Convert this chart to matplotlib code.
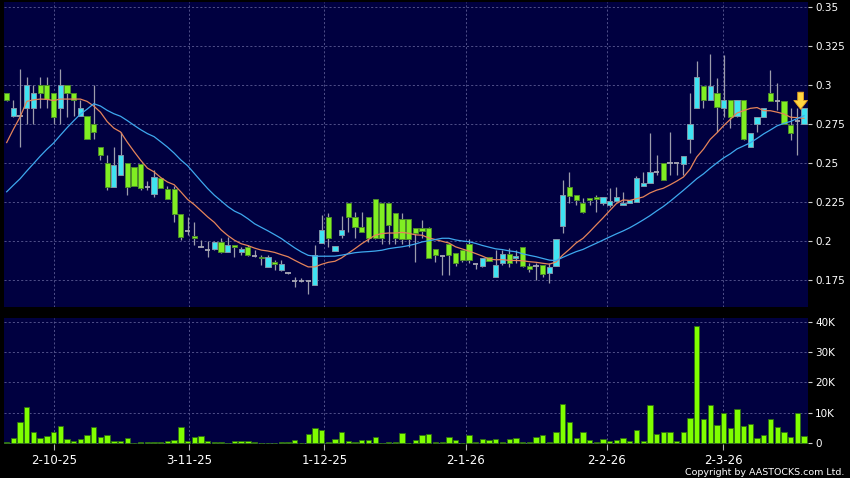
import numpy as np
import pandas as pd
import matplotlib
matplotlib.use('Agg')
import matplotlib.pyplot as plt

# daily bars, oldest first (prices in HKD, volume in thousands of shares)
opens = [0.2947, 0.2801, 0.2800, 0.2850, 0.2850, 0.3000, 0.3000, 0.2947, 0.2850, 0.3000,
         0.2947, 0.2801, 0.2801, 0.2750, 0.2600, 0.2498, 0.2348, 0.2423, 0.2498, 0.2476,
         0.2494, 0.2348, 0.2301, 0.2402, 0.2331, 0.2331, 0.2173, 0.2066, 0.2032, 0.1959,
         0.1942, 0.1946, 0.1996, 0.1932, 0.1974, 0.1929, 0.1959, 0.1904, 0.1900, 0.1835,
         0.1867, 0.1814, 0.1797, 0.1746, 0.1746, 0.1746, 0.1718, 0.1985, 0.2152, 0.1938,
         0.2038, 0.2241, 0.2152, 0.2088, 0.2152, 0.2267, 0.2246, 0.2246, 0.2177, 0.2139,
         0.2139, 0.2085, 0.2081, 0.2081, 0.1947, 0.1904, 0.1981, 0.1921, 0.1942, 0.1981,
         0.1853, 0.1840, 0.1895, 0.1767, 0.1857, 0.1917, 0.1889, 0.1964, 0.1840, 0.1840,
         0.1846, 0.1797, 0.1840, 0.2096, 0.2348, 0.2295, 0.2241, 0.2273, 0.2284, 0.2241,
         0.2231, 0.2259, 0.2231, 0.2246, 0.2252, 0.2352, 0.2370, 0.2444, 0.2498, 0.2498,
         0.2498, 0.2494, 0.2652, 0.2850, 0.2994, 0.2904, 0.2947, 0.2850, 0.2904, 0.2801,
         0.2904, 0.2600, 0.2750, 0.2797, 0.2947, 0.2900, 0.2900, 0.2744, 0.2770, 0.2750]
highs = [0.2950, 0.2904, 0.3100, 0.3053, 0.3000, 0.3053, 0.3053, 0.2947, 0.3100, 0.3000,
         0.2947, 0.2904, 0.2801, 0.3000, 0.2600, 0.2551, 0.2600, 0.2701, 0.2498, 0.2476,
         0.2494, 0.2387, 0.2455, 0.2402, 0.2353, 0.2353, 0.2173, 0.2156, 0.2124, 0.2006,
         0.2002, 0.2002, 0.2017, 0.2028, 0.1974, 0.1964, 0.1974, 0.1942, 0.1910, 0.1910,
         0.1878, 0.1878, 0.1801, 0.1772, 0.1764, 0.1746, 0.1974, 0.2167, 0.2182, 0.1968,
         0.2160, 0.2241, 0.2188, 0.2188, 0.2152, 0.2267, 0.2246, 0.2246, 0.2177, 0.2180,
         0.2139, 0.2085, 0.2135, 0.2088, 0.1947, 0.1904, 0.1981, 0.1921, 0.1942, 0.2011,
         0.1853, 0.1889, 0.1895, 0.1942, 0.1942, 0.1953, 0.1942, 0.1964, 0.1857, 0.1857,
         0.1846, 0.1857, 0.2011, 0.2391, 0.2444, 0.2295, 0.2273, 0.2273, 0.2295, 0.2284,
         0.2337, 0.2348, 0.2316, 0.2263, 0.2417, 0.2444, 0.2690, 0.2551, 0.2498, 0.2701,
         0.2498, 0.2547, 0.2951, 0.3156, 0.2994, 0.3199, 0.3043, 0.3192, 0.2904, 0.2904,
         0.2904, 0.2694, 0.2797, 0.2850, 0.3096, 0.3011, 0.2900, 0.2850, 0.2850, 0.2853]
lows = [0.2900, 0.2797, 0.2600, 0.2750, 0.2750, 0.2850, 0.2850, 0.2750, 0.2750, 0.2797,
        0.2801, 0.2801, 0.2652, 0.2652, 0.2519, 0.2327, 0.2348, 0.2423, 0.2295, 0.2352,
        0.2327, 0.2327, 0.2284, 0.2338, 0.2267, 0.2124, 0.2006, 0.2038, 0.1974, 0.1959,
        0.1900, 0.1942, 0.1921, 0.1932, 0.1900, 0.1910, 0.1904, 0.1900, 0.1846, 0.1835,
        0.1814, 0.1810, 0.1789, 0.1707, 0.1740, 0.1660, 0.1718, 0.1985, 0.1964, 0.1938,
        0.2017, 0.2060, 0.2017, 0.2060, 0.1995, 0.2011, 0.1981, 0.1981, 0.1981, 0.1981,
        0.1964, 0.1867, 0.2017, 0.1889, 0.1867, 0.1782, 0.1782, 0.1840, 0.1867, 0.1860,
        0.1820, 0.1835, 0.1874, 0.1767, 0.1846, 0.1835, 0.1857, 0.1835, 0.1803, 0.1750,
        0.1767, 0.1733, 0.1840, 0.2049, 0.2241, 0.2231, 0.2177, 0.2231, 0.2188, 0.2231,
        0.2220, 0.2252, 0.2231, 0.2246, 0.2252, 0.2352, 0.2370, 0.2423, 0.2391, 0.2423,
        0.2423, 0.2423, 0.2562, 0.2850, 0.2850, 0.2904, 0.2700, 0.2797, 0.2722, 0.2797,
        0.2647, 0.2600, 0.2701, 0.2797, 0.2900, 0.2840, 0.2750, 0.2647, 0.2551, 0.2750]
closes = [0.2904, 0.2850, 0.2800, 0.3000, 0.2947, 0.2947, 0.2908, 0.2797, 0.3000, 0.2947,
          0.2904, 0.2850, 0.2652, 0.2701, 0.2551, 0.2348, 0.2487, 0.2551, 0.2348, 0.2352,
          0.2338, 0.2348, 0.2408, 0.2338, 0.2267, 0.2173, 0.2028, 0.2066, 0.2017, 0.1959,
          0.1942, 0.1996, 0.1932, 0.1974, 0.1964, 0.1949, 0.1910, 0.1904, 0.1889, 0.1900,
          0.1852, 0.1852, 0.1797, 0.1746, 0.1746, 0.1746, 0.1910, 0.2070, 0.2017, 0.1968,
          0.2070, 0.2152, 0.2092, 0.2060, 0.2017, 0.2017, 0.2017, 0.2103, 0.2017, 0.2011,
          0.2011, 0.2053, 0.2066, 0.1889, 0.1910, 0.1904, 0.1910, 0.1857, 0.1878, 0.1878,
          0.1853, 0.1889, 0.1874, 0.1846, 0.1917, 0.1857, 0.1904, 0.1840, 0.1818, 0.1840,
          0.1788, 0.1835, 0.2011, 0.2295, 0.2288, 0.2263, 0.2188, 0.2263, 0.2269, 0.2280,
          0.2259, 0.2284, 0.2246, 0.2263, 0.2402, 0.2370, 0.2444, 0.2444, 0.2391, 0.2498,
          0.2498, 0.2547, 0.2748, 0.3049, 0.2904, 0.2994, 0.2861, 0.2904, 0.2797, 0.2904,
          0.2652, 0.2694, 0.2797, 0.2850, 0.2900, 0.2900, 0.2750, 0.2694, 0.2770, 0.2853]
volumes_k = [0.4, 1.5, 7.0, 11.9, 3.7, 1.8, 2.2, 3.5, 5.6, 1.3,
             0.7, 1.2, 2.6, 5.3, 2.1, 2.7, 0.7, 0.7, 1.5, 0.1,
             0.2, 0.3, 0.2, 0.2, 0.8, 1.1, 5.4, 0.7, 2.1, 2.4,
             0.8, 0.2, 0.2, 0.1, 0.8, 0.7, 0.7, 0.3, 0.05, 0.05,
             0.05, 0.4, 0.2, 1.0, 0.05, 2.9, 4.9, 4.3, 0.3, 1.3,
             3.6, 0.8, 0.2, 1.0, 1.0, 1.9, 0.05, 0.4, 0.4, 3.3,
             0.05, 0.9, 2.5, 3.0, 0.5, 0.3, 2.0, 1.0, 0.1, 2.5,
             0.5, 1.2, 1.0, 1.2, 0.2, 1.3, 1.6, 0.3, 0.3, 2.0,
             2.8, 0.2, 3.5, 13.0, 7.0, 1.5, 3.7, 1.0, 0.2, 1.4,
             0.7, 1.0, 1.8, 0.8, 4.3, 0.7, 12.5, 3.0, 3.7, 3.7,
             0.7, 3.5, 8.3, 38.5, 7.8, 12.5, 6.0, 10.0, 5.0, 11.2,
             5.5, 6.3, 1.8, 2.8, 7.8, 5.2, 3.5, 2.0, 10.0, 2.3]
# closes before the first visible bar, only needed to seed the moving averages
prior_closes = [0.200, 0.198, 0.201, 0.200, 0.199, 0.202, 0.200, 0.201, 0.199, 0.200,
                0.200, 0.201, 0.200, 0.285, 0.290, 0.292, 0.288, 0.290, 0.295]

date_labels = ['2-10-25', '3-11-25', '1-12-25', '2-1-26', '2-2-26', '2-3-26']
date_ticks = [7.1, 27.25, 47.4, 68.55, 89.55, 106.95]
price_ticks = [0.175, 0.2, 0.225, 0.25, 0.275, 0.3, 0.325, 0.35]
vol_ticks = [0, 10, 20, 30, 40]
vol_tick_labels = ['0', '10K', '20K', '30K', '40K']

BG = '#000040'
CYAN = '#3fe3f2'
GREEN = '#80ee22'
GRID = '#5c5c94'

o = np.array(opens)
h = np.array(highs)
l = np.array(lows)
c = np.array(closes)
x = np.arange(len(c))

allc = pd.Series(prior_closes + closes)
ma10 = allc.rolling(10).mean().values[-len(c):]
ma20 = allc.rolling(20).mean().values[-len(c):]

fig = plt.figure(figsize=(8.5, 4.78), dpi=100, facecolor='black')
ax = fig.add_axes([0.0047, 0.3577, 0.9459, 0.638])
axv = fig.add_axes([0.0047, 0.0711, 0.9459, 0.2636], sharex=ax)

for a in (ax, axv):
    a.set_facecolor(BG)
    for s in a.spines.values():
        s.set_visible(False)
    a.set_axisbelow(True)
    a.grid(True, color=GRID, linestyle=(0, (2.5, 2.5)), linewidth=0.6)
    a.yaxis.tick_right()
    a.tick_params(axis='y', colors='#d0d0d0', labelcolor='white', length=3,
                  width=0.8, labelsize=7.5, pad=2)

# candles
up = c > o + 1e-9
down = c < o - 1e-9
flat = ~(up | down)
ax.vlines(x, l, h, color='#9c9cab', lw=0.9, zorder=2)
ax.bar(x[up], (c - o)[up], bottom=o[up], width=0.78, color=CYAN,
       edgecolor='#8095a8', lw=0.7, zorder=3)
ax.bar(x[down], (o - c)[down], bottom=c[down], width=0.78, color=GREEN,
       edgecolor='#4d8c2a', lw=0.7, zorder=3)
ax.hlines(c[flat], x[flat] - 0.4, x[flat] + 0.4, color='#a8a8b4', lw=1.3, zorder=3)

ax.plot(x, ma10, color='#e5845a', lw=0.9, zorder=4)
ax.plot(x, ma20, color='#3ea8ee', lw=0.9, zorder=4)

# signal arrow on the last bar
ax.annotate('', xy=(x[-1] - 0.5, 0.2827), xytext=(x[-1] - 0.5, 0.2972),
            arrowprops=dict(arrowstyle='simple,head_length=0.9,head_width=1.4,tail_width=0.6',
                            mutation_scale=7, fc='#ffd640', ec='#e8a020', lw=0.6),
            zorder=6)

ax.set_ylim(0.1577, 0.3532)
ax.set_yticks(price_ticks)
ax.set_yticklabels(['%g' % t for t in price_ticks])
ax.set_xlim(-0.4, len(c) - 0.4)
ax.set_xticks(date_ticks)
ax.tick_params(axis='x', length=0, labelbottom=False)

# volume
axv.bar(x, volumes_k, width=0.8, color='#80ff00', edgecolor='#2e6e14', lw=0.6, zorder=3)
axv.set_ylim(-0.33, 41.3)
axv.set_yticks(vol_ticks)
axv.set_yticklabels(vol_tick_labels)
axv.set_xticks(date_ticks)
axv.set_xticklabels(date_labels)
axv.tick_params(axis='x', colors='#b0b0b0', labelcolor='white', length=4,
                width=0.8, labelsize=8.5, pad=3)

fig.text(0.993, 0.012, 'Copyright by AASTOCKS.com Ltd.', color='white',
         fontsize=6.8, ha='right', va='center')

fig.savefig('out.png', dpi=100, facecolor='black')
